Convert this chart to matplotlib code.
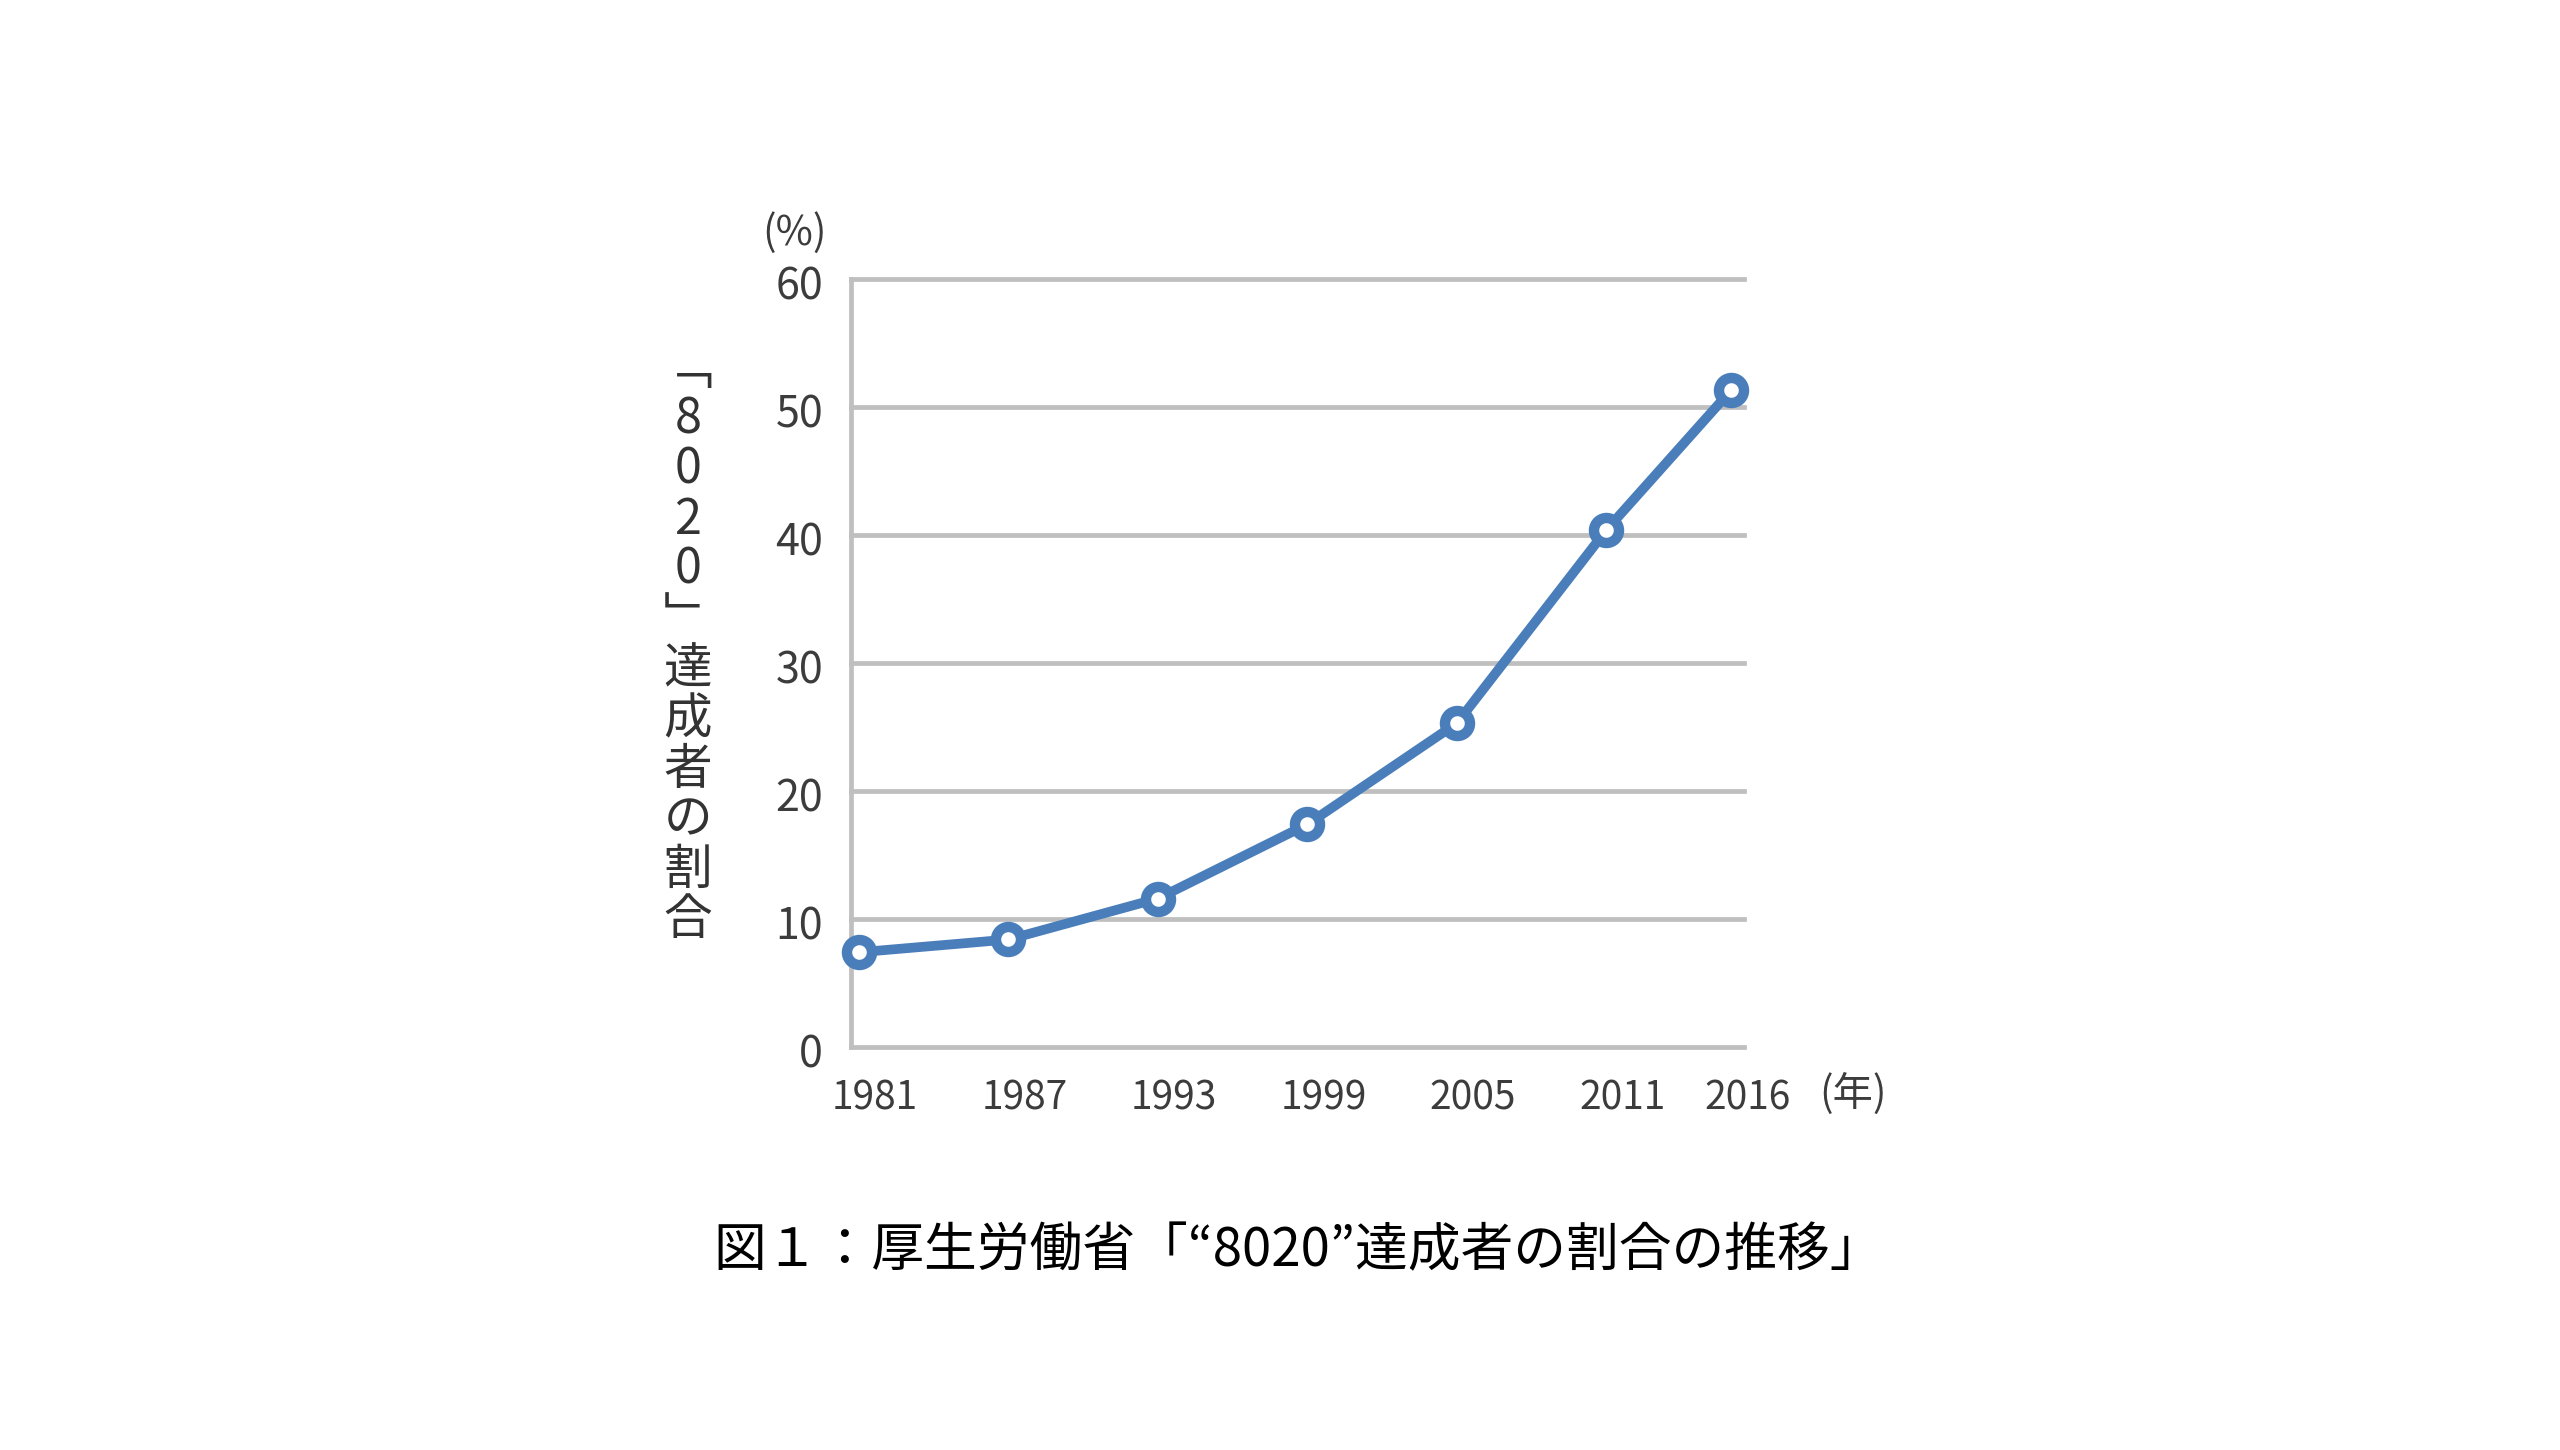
import matplotlib
matplotlib.use("Agg")
import matplotlib.pyplot as plt
from matplotlib.transforms import ScaledTranslation

# data
years = [1981, 1987, 1993, 1999, 2005, 2011, 2016]
rates = [7.4, 8.4, 11.6, 17.4, 25.3, 40.4, 51.3]
y_ticks = [0, 10, 20, 30, 40, 50, 60]
ylabel_chars = ["﹁", "8", "0", "2", "0", "﹂", "達", "成", "者", "の", "割", "合"]
caption = "図１：厚生労働省「“8020”達成者の割合の推移」"

plt.rcParams["font.family"] = ["Noto Sans CJK JP", "DejaVu Sans"]

W, H = 2560, 1450
LINE = "#4a7ebb"
GRID = "#bfbfbf"
TXT = "#3c3c3c"

fig = plt.figure(figsize=(W / 100, H / 100), dpi=100)
fig.patch.set_facecolor("white")

# axes box in pixel terms: left 851, right 1744, top 279, bottom 1047
ax = fig.add_axes([851 / W, 1 - 1047 / H, (1744 - 851) / W, (1047 - 279) / H])
ax.set_xlim(1980.68, 2016.52)
ax.set_ylim(0, 60)

ax.set_yticks(y_ticks)
ax.set_yticklabels([str(v) for v in y_ticks])
ax.set_xticks(years)
ax.set_xticklabels([str(y) for y in years])

ax.yaxis.grid(True, color=GRID, lw=3.4)
for gl in ax.get_ygridlines():
    gl.set_clip_on(False)
ax.set_axisbelow(True)

for side in ["top", "right", "bottom"]:
    ax.spines[side].set_visible(False)
ax.spines["left"].set_color(GRID)
ax.spines["left"].set_linewidth(3.4)

ax.tick_params(axis="x", length=0, labelsize=28, labelcolor=TXT, pad=23)
ax.tick_params(axis="y", length=0, labelsize=31, labelcolor=TXT, pad=20)

# x labels sit a little right of their points in the original, y labels a bit low
shift = ScaledTranslation(0.16, 0, fig.dpi_scale_trans)
for lab in ax.get_xticklabels():
    lab.set_transform(lab.get_transform() + shift)
drop = ScaledTranslation(0, -0.04, fig.dpi_scale_trans)
for lab in ax.get_yticklabels():
    lab.set_transform(lab.get_transform() + drop)

ax.plot(years, rates, color=LINE, lw=7, marker="o", ms=18,
        mfc="white", mec=LINE, mew=7.5, clip_on=False, zorder=3)

# unit labels
fig.text(794 / W, 1 - 233 / H, "(%)", fontsize=29, color=TXT, ha="center", va="center")
fig.text(1853 / W, 1 - 1094 / H, "(年)", fontsize=29, color=TXT, ha="center", va="center")

# vertical y label, one character per cell
x_lab = 688 / W
y0, step = 370, 50
for i, ch in enumerate(ylabel_chars):
    fig.text(x_lab, 1 - (y0 + i * step) / H, ch, fontsize=35, color="#333333",
             ha="center", va="center")

fig.text(1298 / W, 1 - 1251 / H, caption, fontsize=38, color="black",
         ha="center", va="center")

fig.savefig("out.png", dpi=100, facecolor="white")
